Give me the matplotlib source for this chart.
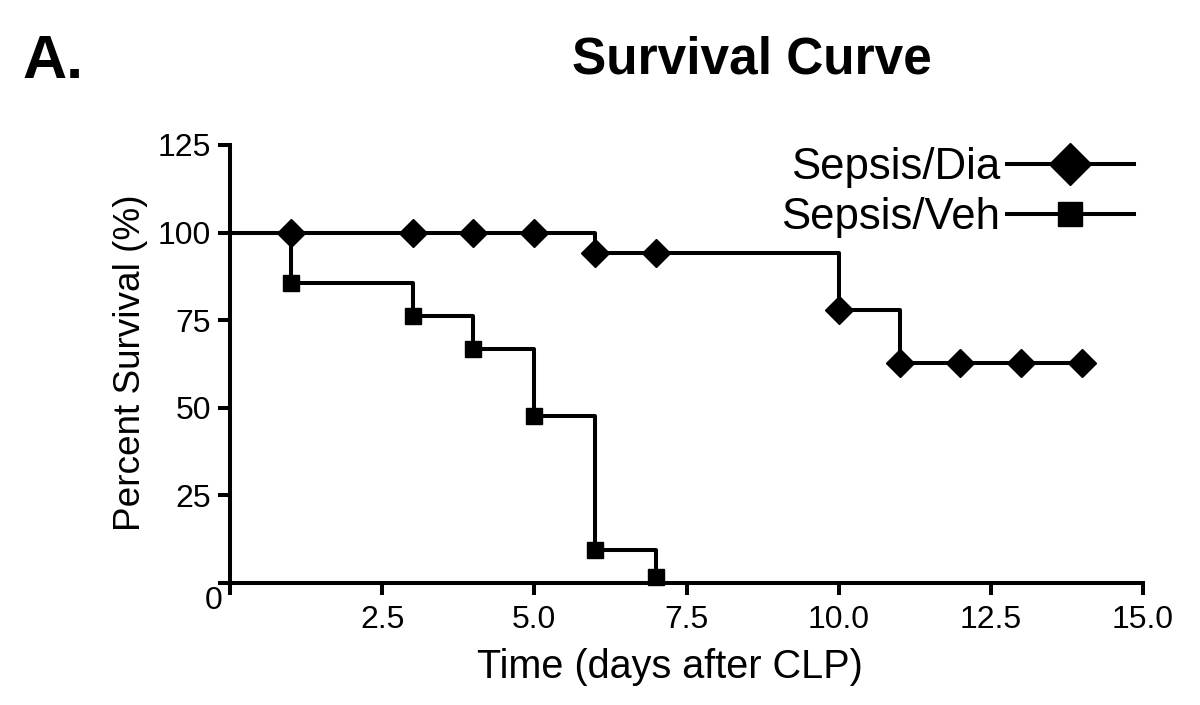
import matplotlib
matplotlib.use('Agg')
import matplotlib.pyplot as plt

# Survival data (day, percent surviving)
dia_days = [0, 1, 3, 4, 5, 6, 7, 10, 11, 12, 13, 14]
dia_survival = [100, 100, 100, 100, 100, 94.1, 94.1, 77.9, 62.8, 62.8, 62.8, 62.8]
veh_days = [0, 1, 3, 4, 5, 6, 7]
veh_survival = [100, 85.7, 76.2, 66.7, 47.6, 9.5, 1.7]

x_ticks = [0, 2.5, 5.0, 7.5, 10.0, 12.5, 15.0]
x_tick_labels = ['', '2.5', '5.0', '7.5', '10.0', '12.5', '15.0']
y_ticks = [0, 25, 50, 75, 100, 125]
y_tick_labels = ['', '25', '50', '75', '100', '125']

plt.rcParams['font.family'] = ['Liberation Sans', 'DejaVu Sans']

fig = plt.figure(figsize=(12, 7.05), dpi=100)
ax = fig.add_axes([0.19167, 0.17305, 0.76083, 0.62128])

lw = 2.9
ax.step(dia_days, dia_survival, where='post', color='black', linewidth=lw)
ax.plot(dia_days[1:], dia_survival[1:], linestyle='none', marker='D',
	markersize=14, color='black', clip_on=False)
ax.step(veh_days, veh_survival, where='post', color='black', linewidth=lw)
ax.plot(veh_days[1:], veh_survival[1:], linestyle='none', marker='s',
	markersize=11.5, color='black', clip_on=False)

ax.set_xlim(0, 15)
ax.set_ylim(0, 125)
for side in ['top', 'right']:
	ax.spines[side].set_visible(False)
for side in ['left', 'bottom']:
	ax.spines[side].set_linewidth(lw)

ax.set_xticks(x_ticks)
ax.set_xticklabels(x_tick_labels)
ax.set_yticks(y_ticks)
ax.set_yticklabels(y_tick_labels)
ax.tick_params(direction='out', length=8.6, width=lw, labelsize=23, pad=5)
ax.tick_params(axis='x', pad=7)

ax.text(-0.018, -0.04, '0', transform=ax.transAxes, fontsize=23,
	ha='center', va='center')

ax.set_ylabel('Percent Survival (%)', fontsize=26.6)
ax.yaxis.set_label_coords(-0.1095, 0.502)
ax.yaxis.label.set_va('center')
ax.set_xlabel('Time (days after CLP)', fontsize=28.5)
ax.xaxis.set_label_coords(0.482, -0.192)
ax.xaxis.label.set_va('center')

# legend: label first, handle after
dia_handle, = ax.plot([], [], color='black', linewidth=lw, marker='D', markersize=14)
veh_handle, = ax.plot([], [], color='black', linewidth=lw, marker='s', markersize=11.5)
ax.legend([dia_handle, veh_handle], ['Sepsis/Dia', 'Sepsis/Veh'],
	loc='upper right', bbox_to_anchor=(1.009, 1.035), frameon=False,
	markerfirst=False, fontsize=31.5, handlelength=2.9, handletextpad=0.15,
	labelspacing=0.2, markerscale=1.5, borderaxespad=0)

fig.text(752 / 1200, 1 - 60 / 705, 'Survival Curve', fontsize=37,
	fontweight='bold', ha='center', va='center')
fig.text(22 / 1200, 1 - 62 / 705, 'A.', fontsize=44, fontweight='bold',
	ha='left', va='center')

fig.savefig('out.png', dpi=100, facecolor='white')
